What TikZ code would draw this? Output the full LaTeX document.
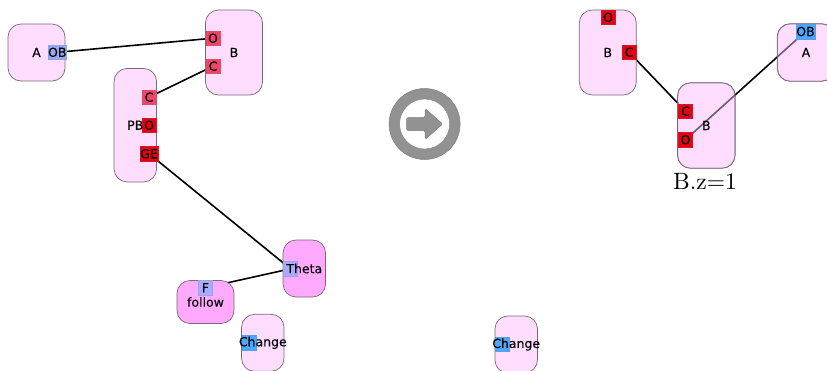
\documentclass[tikz,border=0pt]{standalone}
\usepackage{fontspec}
\newfontfamily\dejavu[FakeBold=0.25]{DejaVu Sans}
\newfontface\cmten{lmroman10-regular.otf}
\usetikzlibrary{backgrounds}
\definecolor{boxpale}{HTML}{FFDDFF}
\definecolor{boxstrong}{HTML}{FFAAFF}
\definecolor{boxline}{HTML}{786878}
\definecolor{portred}{HTML}{E60012}
\definecolor{portrose}{HTML}{F04468}
\definecolor{portperi}{HTML}{98A8F4}
\definecolor{portlav}{HTML}{AAAAFF}
\definecolor{portblue}{HTML}{4DA6FF}
\definecolor{ringgray}{HTML}{929292}
\tikzset{
  x=1pt,y=-1pt,
  boxbase/.style={draw=boxline,line width=.7pt,rounded corners=13pt,inner sep=0pt,minimum width=#1},
  squarebox/.style={boxbase=57pt,minimum height=57pt,fill=boxpale},
  tallbox/.style={boxbase=57pt,minimum height=85pt,fill=boxpale},
  narrowbox/.style={boxbase=42.5pt,minimum height=57pt,fill=boxpale},
  veil/.style={fill=boxpale,fill opacity=.42,draw=boxline,line width=.7pt,rounded corners=13pt},
  port/.style={draw=#1!80!gray,line width=.4pt,fill=#1,minimum width=14pt,minimum height=14.5pt,inner sep=0pt,font=\dejavu\fontsize{12.5}{14}\selectfont,text=black},
  lbl/.style={inner sep=0pt,font=\dejavu\fontsize{12.5}{14}\selectfont},
  wire/.style={line width=1.6pt,black},
}
\begin{document}
\begin{tikzpicture}
\useasboundingbox (0,0) rectangle (827,370);
% boxes that the connector shows through
\begin{pgfonlayer}{background}
\node[tallbox] (SB) at (706.3,125.5) {};
\node[squarebox] (RA) at (806,52.5) {};
\end{pgfonlayer}
\draw[veil] (SB.north west) rectangle (SB.south east);
\draw[veil] (RA.north west) rectangle (RA.south east);
% left side
\node[squarebox] (A) at (36.5,52.5) {};
\node[tallbox] (B) at (234,52.5) {};
\node[boxbase=42.5pt,minimum height=113.5pt,fill=boxpale] (PB) at (135.3,125.2) {};
\node[boxbase=42.5pt,minimum height=57pt,fill=boxstrong] (T) at (304.3,268.5) {};
\node[boxbase=57pt,minimum height=43pt,fill=boxstrong] (Fol) at (205.5,302) {};
\node[narrowbox] (Ch) at (262.8,342.8) {};
\node[port=portperi] (AOB) at (57.3,52.3) {OB};
\node[port=portrose] (BO) at (213,38.2) {O};
\node[port=portrose] (BC) at (213,66.2) {C};
\node[port=portrose] (PC) at (149,97.2) {C};
\node[port=portred] (PO) at (149,125.2) {O};
\node[port=portred] (PG) at (149,153.7) {GE};
\node[port=portlav] (TP) at (290.5,268.8) {};
\node[port=portlav] (FP) at (205.5,287.7) {F};
\node[port=portblue] (CP) at (249,342.6) {};
\node[lbl] at (A.center) {A};
\node[lbl] at (B.center) {B};
\node[lbl] at (PB.center) {PB};
\node[lbl] at (T.center) {Theta};
\node[lbl] at (Fol.center) {follow};
\node[lbl] at (Ch.center) {Change};
% right side
\node[tallbox] (RB) at (607.8,52.5) {};
\node[narrowbox] (RCh) at (516.2,344.5) {};
\node[port=portred] (RBO) at (608,17.3) {O};
\node[port=portred] (RBC) at (629,52.2) {C};
\node[port=portred] (SC) at (685.5,111.2) {C};
\node[port=portred] (SO) at (685.5,139.7) {O};
\node[port=portblue] (ROB) at (805.5,31.5) {OB};
\node[port=portblue] (RCP) at (502,344.4) {};
\node[lbl] at (RB.center) {B};
\node[lbl] at (SB.center) {B};
\node[lbl] at (RA.center) {A};
\node[lbl] at (RCh.center) {Change};
\node[font=\cmten\fontsize{23.6}{26}\selectfont,inner sep=0pt] (Z) at (705,181) {B.z=1};
% connectors under the boxes
\begin{pgfonlayer}{background}
\draw[wire] (AOB) -- (BO);
\draw[wire] (PC) -- (BC);
\draw[wire] (PG) -- (TP);
\draw[wire] (FP) -- (TP);
\draw[wire] (RBC) -- (SC);
\draw[wire] (SO) -- (ROB);
\end{pgfonlayer}
% transition symbol
\node[circle,draw=ringgray!85!black,line width=.5pt,fill=ringgray,minimum size=71pt,inner sep=0pt] (Ring) at (424.6,124) {};
\node[circle,fill=white,draw=ringgray!85!black,line width=.4pt,minimum size=50pt,inner sep=0pt] (Hole) at (Ring.center) {};
\filldraw[fill=ringgray,draw=ringgray!85!black,line width=.5pt,rounded corners=1.5pt]
  ([shift={(-18,-6.5)}]Ring.center) -- ([shift={(.5,-6.5)}]Ring.center) -- ([shift={(.5,-15.5)}]Ring.center)
  -- ([shift={(18,0)}]Ring.center) -- ([shift={(.5,15.5)}]Ring.center) -- ([shift={(.5,6.5)}]Ring.center)
  -- ([shift={(-18,6.5)}]Ring.center) -- cycle;
\end{tikzpicture}
\end{document}
